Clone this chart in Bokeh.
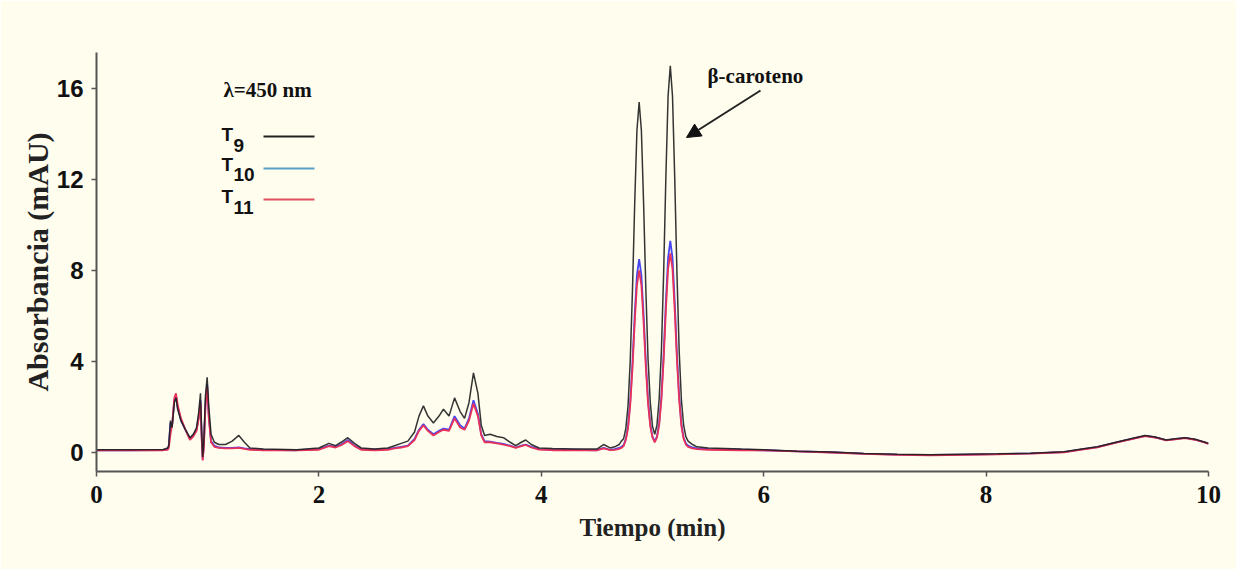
from bokeh.plotting import figure
from bokeh.models import FixedTicker, Label, Arrow, NormalHead, Range1d
from bokeh.embed import file_html
from bokeh.resources import INLINE

# ---------------- data ----------------
tiempo = [0.0, 0.3, 0.6, 0.64, 0.65, 0.665, 0.68, 0.70, 0.715, 0.73, 0.76, 0.80, 0.84, 0.87,
          0.90, 0.92, 0.935, 0.945, 0.955, 0.965, 0.98, 0.995, 1.01, 1.03, 1.06, 1.10, 1.16,
          1.22, 1.28, 1.33, 1.38, 1.5, 1.8, 2.0, 2.09, 2.15, 2.2, 2.26, 2.32, 2.38, 2.5, 2.62,
          2.68, 2.74, 2.80, 2.86, 2.90, 2.94, 2.98, 3.03, 3.08, 3.12, 3.17, 3.22, 3.27, 3.31,
          3.35, 3.39, 3.43, 3.46, 3.49, 3.54, 3.60, 3.66, 3.72, 3.77, 3.82, 3.86, 3.91, 3.98,
          4.1, 4.3, 4.5, 4.56, 4.62, 4.66, 4.70, 4.72, 4.74, 4.76, 4.78, 4.80, 4.82, 4.84,
          4.86, 4.88, 4.90, 4.92, 4.94, 4.96, 4.98, 5.00, 5.02, 5.04, 5.06, 5.08, 5.10, 5.12,
          5.14, 5.16, 5.18, 5.20, 5.22, 5.24, 5.26, 5.28, 5.30, 5.32, 5.36, 5.40, 5.50, 5.8,
          6.0, 6.3, 6.6, 6.9, 7.2, 7.5, 7.8, 8.1, 8.4, 8.7, 8.86, 9.0, 9.17, 9.3, 9.43, 9.52,
          9.62, 9.70, 9.79, 9.88, 9.97, 10.0]

t9 = [0.12, 0.12, 0.13, 0.2, 0.3, 1.4, 1.1, 2.2, 2.4, 1.9, 1.4, 1.0, 0.65, 0.8,
      1.1, 1.8, 2.6, 1.0, -0.2, 0.5, 2.5, 3.3, 2.0, 0.8, 0.45, 0.35, 0.35,
      0.5, 0.75, 0.45, 0.2, 0.15, 0.12, 0.2, 0.4, 0.3, 0.45, 0.65, 0.4, 0.2, 0.15, 0.2,
      0.3, 0.4, 0.5, 0.9, 1.6, 2.05, 1.6, 1.3, 1.6, 1.9, 1.6, 2.4, 1.8, 1.5,
      2.2, 3.5, 2.6, 1.2, 0.75, 0.8, 0.7, 0.65, 0.45, 0.3, 0.45, 0.55, 0.35, 0.2,
      0.18, 0.15, 0.15, 0.35, 0.2, 0.25, 0.35, 0.5, 0.6, 1.05, 2.05, 4.05, 7.15, 10.95,
      14.15, 15.4, 14.15, 10.95, 7.2, 4.1, 2.2, 1.15, 0.8, 1.2, 2.35, 4.45, 7.85, 12.05,
      15.65, 17.0, 15.65, 12.05, 7.85, 4.45, 2.3, 1.2, 0.7, 0.5, 0.35, 0.25, 0.2, 0.15,
      0.12, 0.06, 0.02, -0.04, -0.08, -0.1, -0.08, -0.06, -0.03, 0.03, 0.15, 0.25, 0.45, 0.6, 0.75, 0.68,
      0.55, 0.6, 0.65, 0.58, 0.45, 0.4]

t10 = [0.1, 0.1, 0.11, 0.15, 0.3, 1.3, 1.2, 2.3, 2.5, 2.0, 1.4, 1.0, 0.6, 0.75,
       1.0, 1.6, 2.3, 0.8, -0.3, 0.3, 2.2, 3.0, 1.6, 0.5, 0.3, 0.22, 0.2,
       0.2, 0.22, 0.18, 0.15, 0.12, 0.1, 0.15, 0.3, 0.25, 0.35, 0.55, 0.3, 0.15, 0.12, 0.15,
       0.2, 0.25, 0.3, 0.6, 1.0, 1.25, 1.0, 0.8, 0.95, 1.05, 1.0, 1.6, 1.2, 1.05,
       1.5, 2.3, 1.7, 0.8, 0.5, 0.48, 0.42, 0.38, 0.3, 0.22, 0.3, 0.35, 0.25, 0.15,
       0.12, 0.12, 0.1, 0.2, 0.12, 0.15, 0.2, 0.25, 0.32, 0.6, 1.15, 2.25, 3.95, 6.05,
       7.8, 8.5, 7.8, 6.05, 4.0, 2.3, 1.25, 0.7, 0.5, 0.7, 1.3, 2.45, 4.3, 6.6,
       8.55, 9.3, 8.55, 6.6, 4.3, 2.45, 1.25, 0.65, 0.4, 0.3, 0.22, 0.18, 0.15, 0.12,
       0.1, 0.05, 0.01, -0.05, -0.09, -0.11, -0.09, -0.07, -0.04, 0.02, 0.14, 0.24, 0.44, 0.59, 0.73, 0.67,
       0.54, 0.59, 0.64, 0.57, 0.44, 0.39]

t11 = [0.09, 0.09, 0.1, 0.12, 0.2, 0.8, 1.2, 2.4, 2.6, 2.1, 1.5, 1.0, 0.55, 0.7,
       0.95, 1.5, 2.2, 0.7, -0.35, 0.2, 2.0, 2.9, 1.5, 0.45, 0.25, 0.2, 0.18,
       0.18, 0.2, 0.16, 0.12, 0.1, 0.09, 0.12, 0.28, 0.22, 0.32, 0.5, 0.28, 0.12, 0.1, 0.12,
       0.18, 0.22, 0.28, 0.55, 0.95, 1.2, 0.95, 0.75, 0.9, 1.0, 0.95, 1.5, 1.1, 1.0,
       1.4, 2.15, 1.6, 0.75, 0.45, 0.45, 0.4, 0.35, 0.28, 0.2, 0.28, 0.33, 0.22, 0.13,
       0.1, 0.1, 0.09, 0.18, 0.1, 0.12, 0.16, 0.2, 0.28, 0.55, 1.05, 2.1, 3.7, 5.7,
       7.35, 8.0, 7.35, 5.7, 3.75, 2.15, 1.15, 0.65, 0.45, 0.65, 1.2, 2.3, 4.05, 6.2,
       8.05, 8.75, 8.05, 6.2, 4.05, 2.3, 1.15, 0.6, 0.35, 0.25, 0.18, 0.15, 0.12, 0.1,
       0.09, 0.05, 0.0, -0.06, -0.1, -0.12, -0.1, -0.08, -0.05, 0.01, 0.13, 0.23, 0.43, 0.58, 0.72, 0.66,
       0.53, 0.58, 0.63, 0.56, 0.43, 0.38]

x_ticks = [0, 2, 4, 6, 8, 10]
y_ticks = [0, 4, 8, 12, 16]

# ---------------- layout constants ----------------
W, H = 1236, 569
FL, FR, FT, FB = 96, 1208, 52, 471   # frame edges in pixels
X0, X1 = 0.0, 10.0
Y0, Y1 = -0.835, 17.58
BG = "#FEFDEE"


def dx(px):
    return X0 + (px - FL) / (FR - FL) * (X1 - X0)


def dy(py):
    return Y0 + (FB - py) / (FB - FT) * (Y1 - Y0)


p = figure(width=W, height=H, output_backend="svg", toolbar_location=None,
           x_range=Range1d(X0, X1), y_range=Range1d(Y0, Y1),
           min_border_left=FL, min_border_right=W - FR,
           min_border_top=FT, min_border_bottom=H - FB)
p.background_fill_color = BG
p.border_fill_color = BG
p.outline_line_color = None
p.grid.visible = False

# traces
p.line(tiempo, t10, line_color="#4646f0", line_width=1.8)
p.line(tiempo, t11, line_color="#e8325a", line_width=1.8)
p.line(tiempo, t9, line_color="#1e1e1e", line_width=1.5, line_alpha=0.9)

# axes
for ax in (p.xaxis[0], p.yaxis[0]):
    ax.axis_line_color = "#555555"
    ax.axis_line_width = 2
    ax.major_tick_line_color = "#555555"
    ax.major_tick_line_width = 1.5
    ax.major_tick_out = 5
    ax.major_tick_in = 0
    ax.minor_tick_line_color = None
    ax.major_label_text_color = "#111111"
    ax.major_label_text_font_style = "bold"
    ax.axis_label_text_color = "#222222"
    ax.axis_label_text_font = "Liberation Serif"
    ax.axis_label_text_font_style = "bold"

p.xaxis.ticker = FixedTicker(ticks=x_ticks)
p.yaxis.ticker = FixedTicker(ticks=y_ticks)
p.xaxis.major_label_text_font = "Liberation Serif"
p.xaxis.major_label_text_font_size = "25px"
p.yaxis.major_label_text_font = "Liberation Sans"
p.yaxis.major_label_text_font_size = "24px"
p.xaxis.major_label_standoff = 9
p.yaxis.major_label_standoff = 8
p.xaxis.axis_label = "Tiempo (min)"
p.yaxis.axis_label = "Absorbancia (mAU)"
p.xaxis.axis_label_text_font_size = "25px"
p.yaxis.axis_label_text_font_size = "30px"
p.xaxis.axis_label_standoff = 8
p.yaxis.axis_label_standoff = 0

# legend / annotations
p.add_layout(Label(x=dx(223), y=dy(89), text="λ=450 nm", text_font="Liberation Serif",
                   text_font_style="bold", text_font_size="21px", text_color="#111111",
                   text_baseline="alphabetic"))

legend_items = [("9", "#222222", 134, 145, 136),
                ("10", "#5aa0c8", 164, 174, 168),
                ("11", "#e05060", 196, 207, 199)]
for sub, col, base_T, base_sub, ly in legend_items:
    p.add_layout(Label(x=dx(221), y=dy(base_T), text="T", text_font="Liberation Sans",
                       text_font_style="bold", text_font_size="19px", text_color="#111111",
                       text_baseline="alphabetic"))
    p.add_layout(Label(x=dx(233), y=dy(base_sub), text=sub, text_font="Liberation Sans",
                       text_font_style="bold", text_font_size="19px", text_color="#111111",
                       text_baseline="alphabetic"))
    p.line([dx(263), dx(314)], [dy(ly), dy(ly)], line_color=col, line_width=2)

p.add_layout(Label(x=dx(707), y=dy(75), text="β-caroteno", text_font="Liberation Serif",
                   text_font_style="bold", text_font_size="21px", text_color="#111111",
                   text_baseline="alphabetic"))
p.add_layout(Arrow(end=NormalHead(size=14, fill_color="#111111", line_color="#111111"),
                   x_start=dx(760), y_start=dy(90), x_end=dx(686), y_end=dy(137),
                   line_color="#222222", line_width=2))

open("out.html", "w").write(file_html(p, INLINE))
